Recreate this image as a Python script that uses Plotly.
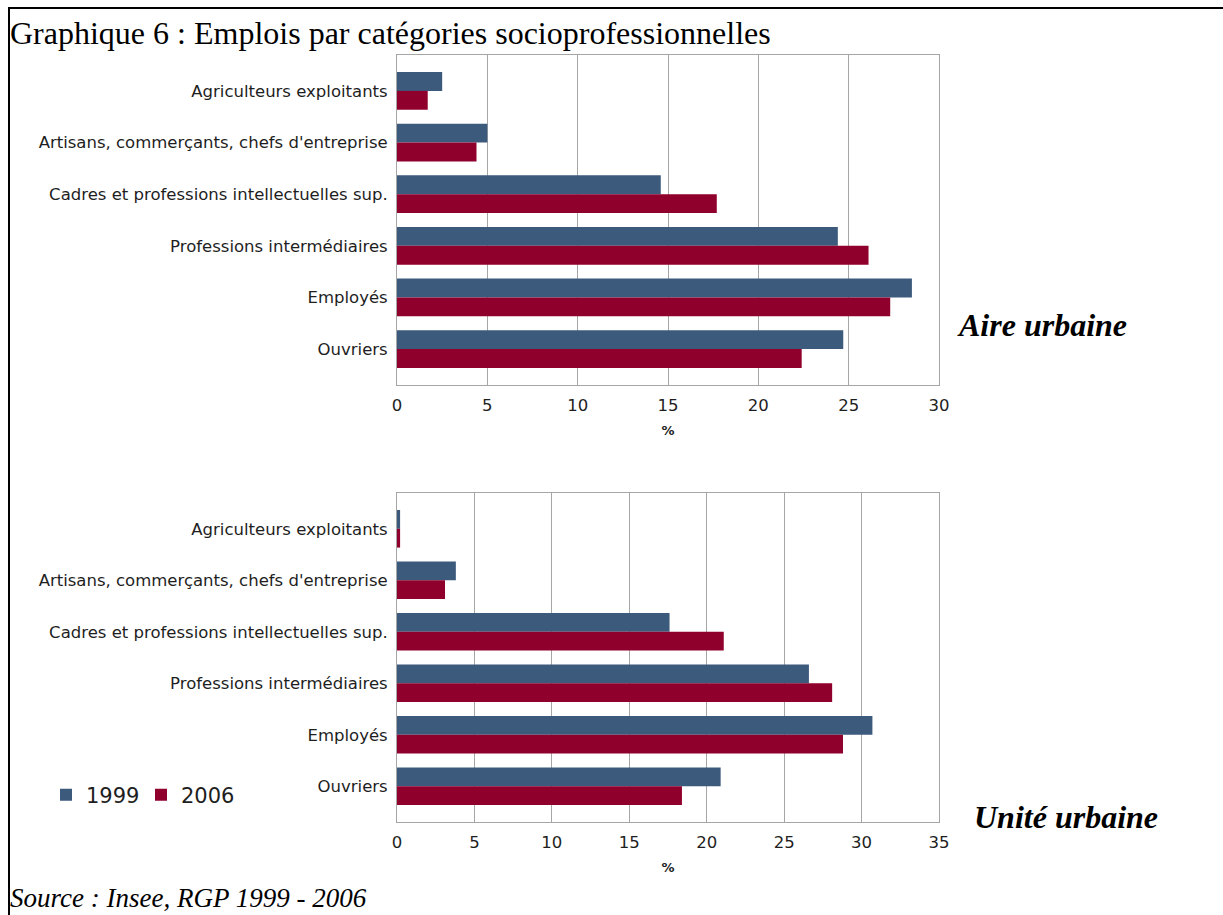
import plotly.graph_objects as go

W, H = 1223, 915

categories = [
    "Agriculteurs exploitants",
    "Artisans, commerçants, chefs d'entreprise",
    "Cadres et professions intellectuelles sup.",
    "Professions intermédiaires",
    "Employés",
    "Ouvriers",
]
years = ["1999", "2006"]

# Aire urbaine (%)
aire_1999 = [2.5, 5.0, 14.6, 24.4, 28.5, 24.7]
aire_2006 = [1.7, 4.4, 17.7, 26.1, 27.3, 22.4]

# Unité urbaine (%)
unite_1999 = [0.2, 3.8, 17.6, 26.6, 30.7, 20.9]
unite_2006 = [0.2, 3.1, 21.1, 28.1, 28.8, 18.4]

x_ticks_top = [0, 5, 10, 15, 20, 25, 30]
x_ticks_bottom = [0, 5, 10, 15, 20, 25, 30, 35]

BLUE = "#3c5a7c"
RED = "#8f002c"
GRID = "#a6a6a6"
SANS = "DejaVu Sans, Verdana, sans-serif"
TICK_FONT = dict(family=SANS, size=16.5, color="#1e1e1e")


def px_x(p):
    return p / W


def px_y(p):
    return 1 - p / H


fig = go.Figure()

fig.add_trace(go.Bar(y=categories, x=aire_1999, name=years[0], orientation="h",
                     marker=dict(color=BLUE, line=dict(width=0)),
                     xaxis="x", yaxis="y", legendgroup="1999"))
fig.add_trace(go.Bar(y=categories, x=aire_2006, name=years[1], orientation="h",
                     marker=dict(color=RED, line=dict(width=0)),
                     xaxis="x", yaxis="y", legendgroup="2006"))
fig.add_trace(go.Bar(y=categories, x=unite_1999, name=years[0], orientation="h",
                     marker=dict(color=BLUE, line=dict(width=0)),
                     xaxis="x2", yaxis="y2", legendgroup="1999", showlegend=False))
fig.add_trace(go.Bar(y=categories, x=unite_2006, name=years[1], orientation="h",
                     marker=dict(color=RED, line=dict(width=0)),
                     xaxis="x2", yaxis="y2", legendgroup="2006", showlegend=False))

x_dom = [px_x(397), px_x(939)]
cat_range = [5.695, -0.695]


def xaxis_cfg(rng, ticks, anchor):
    return dict(
        domain=x_dom, range=rng, anchor=anchor, automargin=False,
        tickvals=ticks, ticktext=[str(t) for t in ticks],
        showgrid=True, gridcolor=GRID, gridwidth=1,
        showline=True, linecolor=GRID, linewidth=1, mirror=True,
        zeroline=False, ticks="", ticklabelstandoff=5,
        tickfont=TICK_FONT,
        title=dict(text="<b>%</b>", font=dict(family=SANS, size=13, color="#1e1e1e"),
                   standoff=12),
        fixedrange=True,
    )


def yaxis_cfg(dom, anchor):
    return dict(
        domain=dom, anchor=anchor, type="category", automargin=False,
        categoryorder="array", categoryarray=categories,
        range=cat_range,
        showgrid=False, showline=True, linecolor=GRID, linewidth=1, mirror=True,
        ticks="", ticklabelstandoff=5, tickfont=TICK_FONT, fixedrange=True,
    )


fig.update_layout(
    width=W, height=H,
    margin=dict(l=0, r=0, t=0, b=0, autoexpand=False),
    paper_bgcolor="white", plot_bgcolor="white",
    barmode="group", bargap=0.27, bargroupgap=0,
    xaxis=xaxis_cfg([0, 30], x_ticks_top, "y"),
    yaxis=yaxis_cfg([px_y(385), px_y(55)], "x"),
    xaxis2=xaxis_cfg([0, 35], x_ticks_bottom, "y2"),
    yaxis2=yaxis_cfg([px_y(822), px_y(493)], "x2"),
    showlegend=True,
    legend=dict(
        orientation="h", x=px_x(46), y=px_y(795), xanchor="left", yanchor="middle",
        font=dict(family=SANS, size=21, color="#1e1e1e"),
        bgcolor="rgba(0,0,0,0)", itemwidth=30, tracegroupgap=0,
        entrywidth=50,
    ),
)

serif = "Liberation Serif, Times New Roman, serif"
fig.add_annotation(text="Graphique 6 : Emplois par catégories socioprofessionnelles",
                   x=px_x(8), y=px_y(33), xref="paper", yref="paper",
                   xanchor="left", yanchor="middle", showarrow=False,
                   font=dict(family=serif, size=32, color="black"))
fig.add_annotation(text="<b><i>Aire urbaine</i></b>",
                   x=px_x(1042), y=px_y(325), xref="paper", yref="paper",
                   xanchor="center", yanchor="middle", showarrow=False,
                   font=dict(family=serif, size=32, color="black"))
fig.add_annotation(text="<b><i>Unité urbaine</i></b>",
                   x=px_x(1066), y=px_y(817), xref="paper", yref="paper",
                   xanchor="center", yanchor="middle", showarrow=False,
                   font=dict(family=serif, size=32, color="black"))
fig.add_annotation(text="<i>Source : Insee, RGP 1999 - 2006</i>",
                   x=px_x(8), y=px_y(898), xref="paper", yref="paper",
                   xanchor="left", yanchor="middle", showarrow=False,
                   font=dict(family=serif, size=27, color="black"))

# Page frame: top and left rules
fig.add_shape(type="line", xref="paper", yref="paper",
              x0=px_x(8), x1=1, y0=px_y(8), y1=px_y(8),
              line=dict(color="black", width=2))
fig.add_shape(type="line", xref="paper", yref="paper",
              x0=px_x(9), x1=px_x(9), y0=px_y(8), y1=0,
              line=dict(color="black", width=2))

fig.write_html("out.html")
